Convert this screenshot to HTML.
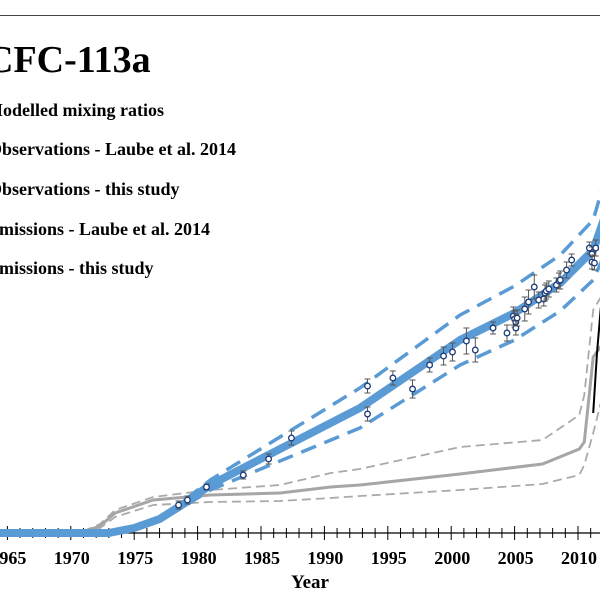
<!DOCTYPE html>
<html><head><meta charset="utf-8"><style>
html,body{margin:0;padding:0;background:#fff;width:600px;height:600px;overflow:hidden}
svg{position:absolute;left:0;top:0}
text{font-family:"Liberation Serif",serif;font-weight:bold;fill:#000}
</style></head><body>
<svg id="c" width="600" height="600">
<line x1="0" y1="15.5" x2="600" y2="15.5" stroke="#444" stroke-width="1"/>
<text x="-14" y="72" font-size="38">CFC-113a</text>
<text x="-14" y="116" font-size="18">Modelled mixing ratios</text>
<text x="-12" y="155" font-size="18">Observations - Laube et al. 2014</text>
<text x="-12" y="195" font-size="18">Observations - this study</text>
<text x="-13" y="235" font-size="18">Emissions - Laube et al. 2014</text>
<text x="-13" y="274" font-size="18">Emissions - this study</text>
<text x="310" y="588" font-size="19" text-anchor="middle">Year</text>
<g id="plot"></g>
</svg>
<script>
const modelYears=[1960,1973,1975,1977,1979,1981,1986.5,1992.8,2000.7,2005,2008.6,2011.2,2012.5];
const modelVals=[0,0,5,14,30,48,84,125,193,220,250,283,330];
const modelUpper=[0,0,6,16,33,53,96,145,218,247,278,313,370];
const modelLower=[0,0,4,12,27,43,72,105,168,193,222,253,290];
const emisYears=[1960,1970.7,1972.3,1973.5,1976.5,1981,1986.5,1990.5,1992.8,2000.7,2007.2,2010.1,2010.5,2011.2,2012];
const emisVals=[0,0,7,20,33,38,40,46,48,59,69,84,91,176,190];
const emisUpper=[0,0,9,23,36,43,48,60,64,86,93,118,138,223,240];
const emisLower=[0,0,5,16,28,31,32,35,37,43,49,58,68,100,140];
const thisEmisYears=[2011.2,2011.5,2011.8,2012.5];
const thisEmisVals=[120,180,225,250];
const obsYears=[1978.5,1979.2,1980.7,1983.6,1985.6,1987.4,1993.4,1993.4,1995.4,1996.95,1998.3,1999.4,2000.1,2001.2,2001.9,2003.3,2004.4,2004.9,2005.0,2005.1,2005.1,2005.2,2005.8,2006.1,2006.55,2006.9,2007.3,2007.4,2007.5,2007.7,2008.3,2008.5,2008.6,2009.1,2009.5,2010.9,2011.1,2011.4,2011.1,2011.3];
const obsVals=[28,33,46,58,74,95,147,119,155,144,168,177,181,192,183,205,200,217,214,211,205,215,224,231,246,233,234,240,242,244,248,252,253,263,273,285,279,285,271,270];
const obsErr=[4,4,3,4,5,7,7,7,7,9,7,9,9,13,12,6,8,9,8,8,7,8,12,12,12,8,7,8,8,8,7,8,9,8,6,6,7,8,7,7];
const tickYears=[1965,1970,1975,1980,1985,1990,1995,2000,2005,2010];

const X=y=>70.8+(y-1970)*12.68;
const Y=v=>533-v;
const ns="http://www.w3.org/2000/svg";
const g=document.getElementById('plot');
function mk(t,a){const e=document.createElementNS(ns,t);for(const k in a)e.setAttribute(k,a[k]);g.appendChild(e);return e;}
function pts(xs,vs){return xs.map((x,i)=>X(x).toFixed(1)+','+Y(vs[i]).toFixed(1)).join(' ');}

let ax=mk('line',{x1:0,y1:533,x2:600,y2:533,stroke:'#000','stroke-width':1.3});


for(let yr=1964;yr<=2013;yr++){
  const maj=yr%5===0;
  let t=mk('line',{x1:X(yr),x2:X(yr),y1:maj?526:528,y2:maj?540:538,stroke:'#000','stroke-width':1});
  
  
}
tickYears.forEach(yr=>{
  let t=mk('text',{x:X(yr)+1,y:564,'font-size':18,'text-anchor':'middle'});
  t.textContent=yr;
  
  
});

let eu=mk('polyline',{points:pts(emisYears,emisUpper),fill:'none',stroke:'#aaa','stroke-width':1.8,'stroke-dasharray':'9,5'});


let el=mk('polyline',{points:pts(emisYears,emisLower),fill:'none',stroke:'#aaa','stroke-width':1.8,'stroke-dasharray':'9,5'});


let em=mk('polyline',{points:pts(emisYears,emisVals),fill:'none',stroke:'#a6a6a6','stroke-width':3});


let te=mk('polyline',{points:pts(thisEmisYears,thisEmisVals),fill:'none',stroke:'#000','stroke-width':2});



let mu=mk('polyline',{points:pts(modelYears,modelUpper),fill:'none',stroke:'#5b9bd5','stroke-width':3.5,'stroke-dasharray':'16,9','stroke-linejoin':'round'});


let ml=mk('polyline',{points:pts(modelYears,modelLower),fill:'none',stroke:'#5b9bd5','stroke-width':3.5,'stroke-dasharray':'16,9','stroke-linejoin':'round'});


let mm=mk('polyline',{points:pts(modelYears,modelVals),fill:'none',stroke:'#5b9bd5','stroke-width':8,'stroke-linejoin':'round'});



obsYears.forEach((yr,i)=>{
  const x=X(yr),y=Y(obsVals[i]),e=obsErr[i];
  let b=mk('path',{d:`M${x},${y-e}V${y+e}M${x-3},${y-e}h6M${x-3},${y+e}h6`,stroke:'#555','stroke-width':1,fill:'none'});
  
  
  let c=mk('circle',{cx:x,cy:y,r:2.8,fill:'#fff',stroke:'#1f3c78','stroke-width':1.3});
  
  
});
</script>
</body></html>
